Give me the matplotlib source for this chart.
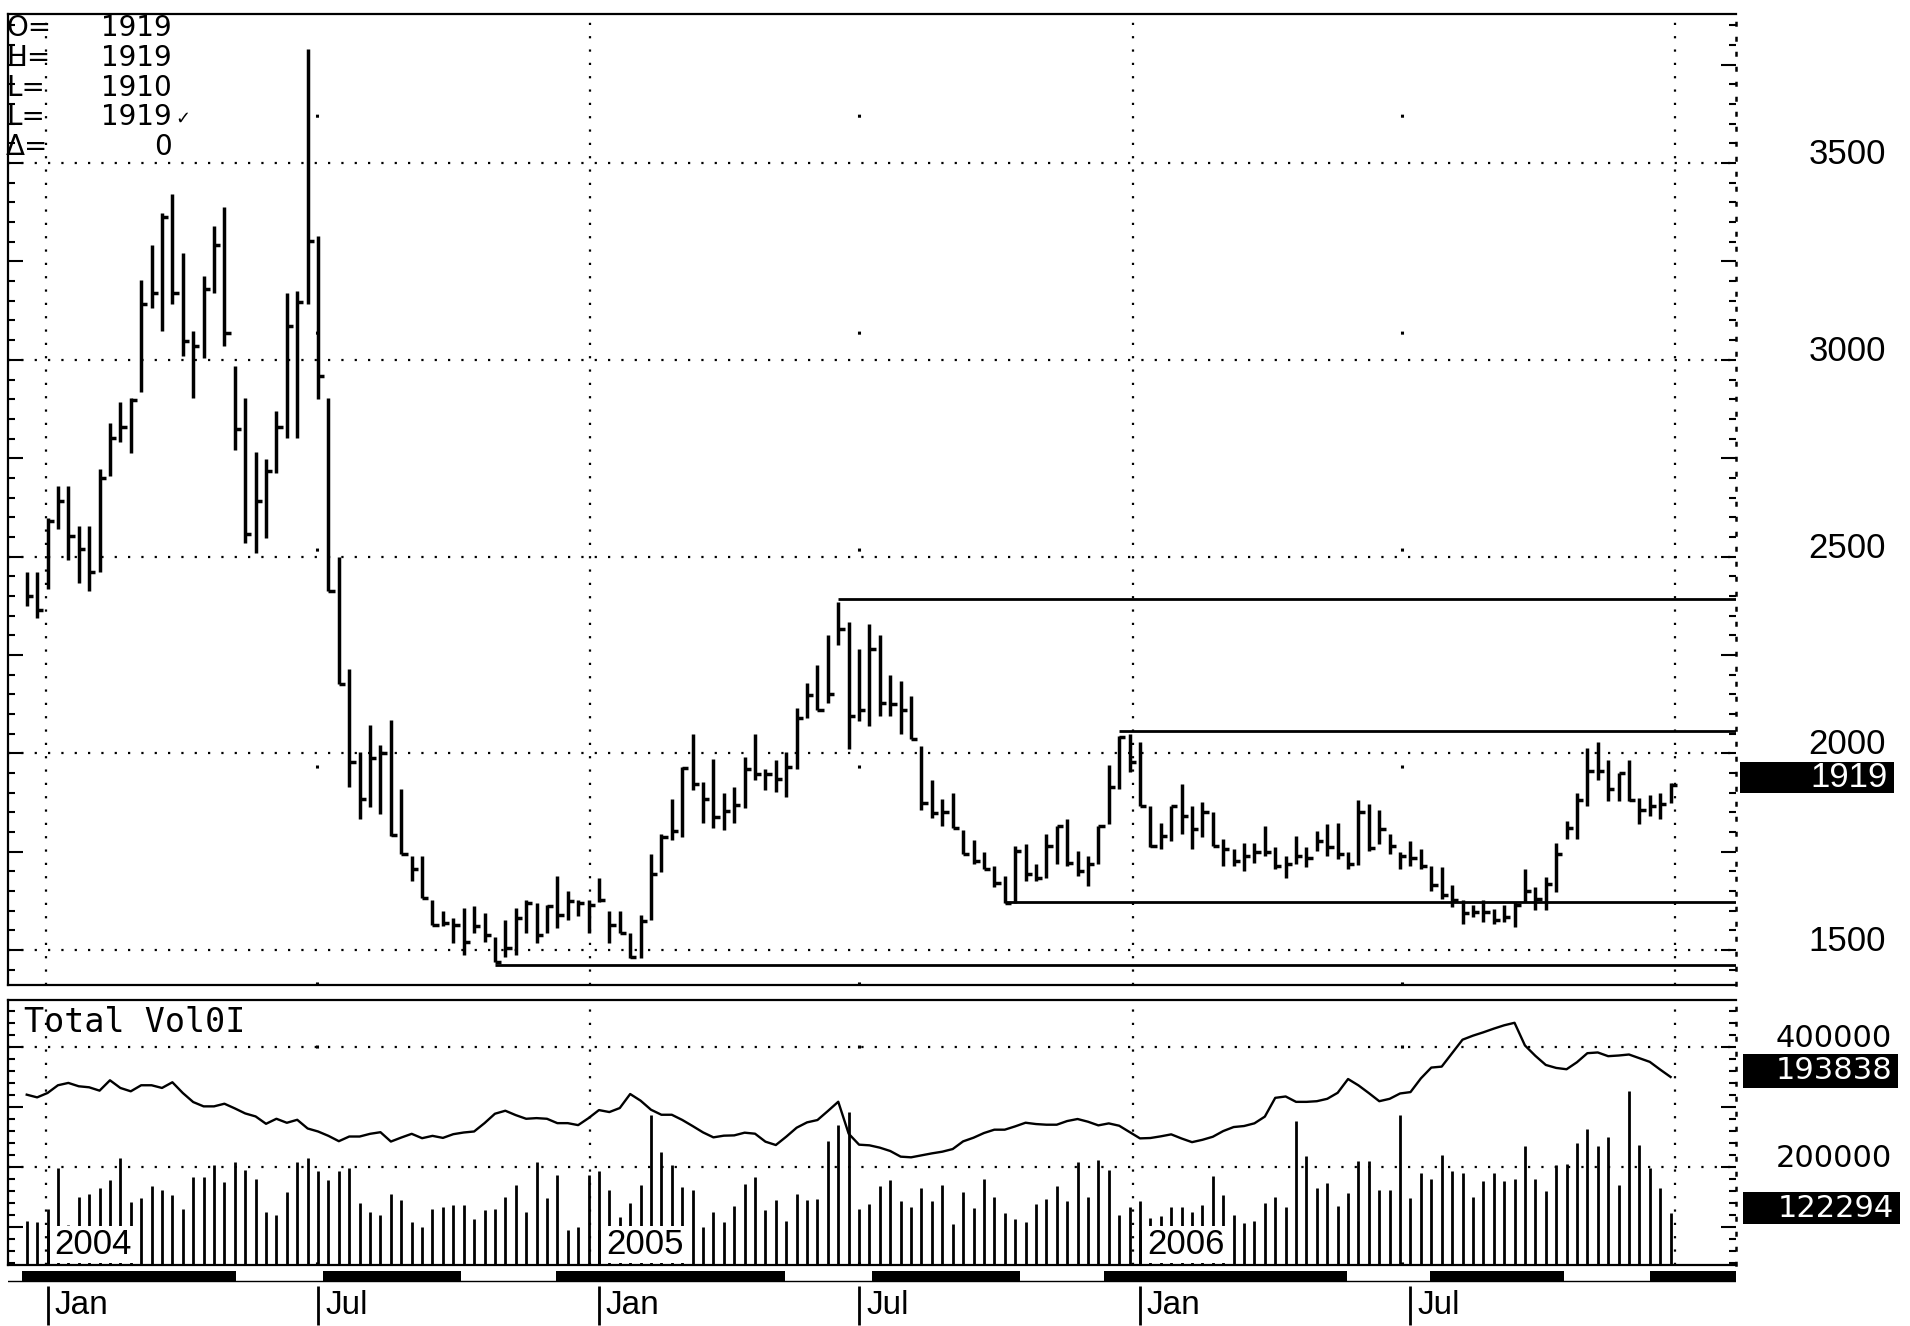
import matplotlib
matplotlib.use("Agg")
import matplotlib.pyplot as plt
import matplotlib.dates as mdates
from matplotlib.patches import Rectangle
from matplotlib.ticker import MultipleLocator
from matplotlib.transforms import blended_transform_factory
import numpy as np
import pandas as pd

plt.rcParams['font.family'] = ['Liberation Sans', 'DejaVu Sans']

# ---------------------------------------------------------------
# data (weekly bars)
# ---------------------------------------------------------------
weeks = pd.date_range("2003-12-19", periods=159, freq="7D")

high = [2461, 2461, 2597, 2680, 2680, 2578, 2578, 2723, 2840, 2893,
        2903, 3204, 3291, 3374, 3422, 3272, 3073, 3214, 3340, 3388,
        2985, 2903, 2767, 2747, 2869, 3170, 3175, 3791, 3315, 2903,
        2500, 2214, 2004, 2073, 2021, 2085, 1910, 1739, 1739, 1628,
        1598, 1581, 1607, 1611, 1594, 1534, 1577, 1607, 1628, 1620,
        1615, 1688, 1650, 1628, 1628, 1684, 1598, 1598, 1543, 1590,
        1744, 1795, 1885, 1966, 2050, 1927, 1986, 1898, 1915, 1990,
        2049, 1961, 1982, 2002, 2116, 2178, 2224, 2300, 2384, 2333,
        2266, 2329, 2300, 2199, 2183, 2145, 2019, 1931, 1885, 1898,
        1806, 1780, 1748, 1714, 1688, 1765, 1769, 1718, 1795, 1816,
        1833, 1752, 1739, 1816, 1969, 2045, 2049, 2028, 1867, 1824,
        1867, 1922, 1867, 1875, 1850, 1782, 1756, 1773, 1773, 1816,
        1761, 1739, 1790, 1761, 1803, 1820, 1824, 1748, 1880, 1870,
        1857, 1794, 1748, 1777, 1756, 1714, 1710, 1664, 1626, 1614,
        1626, 1605, 1614, 1622, 1706, 1660, 1685, 1773, 1828, 1899,
        2013, 2029, 1983, 1950, 1983, 1887, 1895, 1899, 1924]

low = [2374, 2344, 2417, 2570, 2490, 2432, 2413, 2461, 2704, 2791,
       2762, 2917, 3131, 3073, 3141, 3010, 2903, 3005, 3170, 3034,
       2772, 2534, 2510, 2548, 2713, 2801, 2801, 3141, 2900, 2413,
       2175, 1915, 1833, 1863, 1846, 1790, 1744, 1675, 1632, 1564,
       1560, 1517, 1487, 1543, 1521, 1470, 1483, 1487, 1543, 1517,
       1543, 1556, 1577, 1586, 1543, 1622, 1517, 1543, 1479, 1479,
       1577, 1697, 1780, 1786, 1906, 1822, 1810, 1806, 1822, 1860,
       1931, 1906, 1902, 1889, 1961, 2090, 2111, 2128, 2275, 2011,
       2082, 2070, 2095, 2095, 2049, 2036, 1856, 1835, 1814, 1810,
       1743, 1718, 1705, 1659, 1620, 1620, 1676, 1676, 1684, 1718,
       1714, 1688, 1663, 1718, 1820, 1909, 1952, 1867, 1761, 1756,
       1778, 1795, 1756, 1786, 1765, 1714, 1714, 1701, 1722, 1739,
       1705, 1684, 1718, 1710, 1752, 1739, 1731, 1705, 1715, 1752,
       1769, 1744, 1706, 1714, 1706, 1651, 1630, 1609, 1567, 1584,
       1572, 1567, 1572, 1559, 1622, 1601, 1601, 1647, 1782, 1782,
       1866, 1933, 1878, 1878, 1878, 1819, 1840, 1832, 1874]

close = [2400, 2364, 2590, 2640, 2553, 2519, 2461, 2699, 2801, 2830,
         2898, 3141, 3170, 3364, 3170, 3048, 3034, 3180, 3291, 3068,
         2825, 2558, 2641, 2718, 2830, 3087, 3146, 3301, 2960, 2413,
         2175, 1979, 1885, 1987, 2000, 1791, 1744, 1705, 1632, 1564,
         1568, 1564, 1521, 1560, 1538, 1470, 1504, 1581, 1620, 1538,
         1611, 1590, 1624, 1620, 1615, 1628, 1564, 1543, 1483, 1573,
         1692, 1786, 1803, 1963, 1923, 1885, 1839, 1852, 1868, 1961,
         1948, 1948, 1935, 1965, 2090, 2149, 2111, 2150, 2317, 2095,
         2111, 2266, 2128, 2124, 2111, 2036, 1873, 1848, 1850, 1810,
         1743, 1725, 1705, 1671, 1620, 1752, 1693, 1684, 1765, 1816,
         1722, 1701, 1718, 1816, 1913, 2041, 1977, 1867, 1765, 1790,
         1867, 1841, 1807, 1850, 1765, 1756, 1727, 1739, 1748, 1748,
         1714, 1718, 1739, 1735, 1778, 1761, 1744, 1718, 1850, 1760,
         1807, 1765, 1740, 1735, 1714, 1664, 1639, 1626, 1593, 1597,
         1597, 1576, 1584, 1614, 1651, 1630, 1668, 1744, 1811, 1882,
         1954, 1954, 1908, 1950, 1882, 1857, 1866, 1870, 1919]

# total volume, thousands of contracts
volume_k = [110, 108, 130, 197, 102, 150, 155, 164, 178, 214,
            141, 147, 167, 161, 153, 130, 183, 183, 203, 175,
            208, 194, 180, 125, 119, 158, 208, 214, 192, 178,
            192, 197, 139, 125, 119, 155, 144, 108, 99, 130,
            133, 136, 136, 113, 127, 130, 150, 169, 125, 208,
            147, 186, 94, 99, 186, 192, 161, 116, 139, 169,
            287, 225, 203, 166, 161, 99, 125, 108, 135, 171,
            183, 128, 144, 109, 154, 144, 146, 243, 269, 292,
            129, 137, 168, 178, 143, 133, 165, 143, 169, 104,
            157, 131, 179, 150, 122, 113, 108, 137, 146, 168,
            142, 208, 150, 211, 194, 119, 133, 143, 114, 117,
            133, 133, 124, 136, 185, 152, 119, 106, 110, 140,
            150, 133, 277, 218, 165, 173, 134, 156, 210, 210,
            161, 161, 287, 148, 189, 179, 220, 193, 189, 150,
            176, 189, 176, 180, 235, 180, 159, 203, 204, 240,
            263, 235, 249, 169, 327, 236, 197, 165, 122.294]

# open interest, thousands of contracts
open_int_k = [164.3, 159.8, 167.1, 180.0, 183.9, 178.3, 176.6, 171.0, 188.3, 175.5,
              169.9, 180.0, 180.0, 175.5, 185.0, 167.1, 152.0, 144.8, 144.8, 149.2,
              141.4, 133.0, 128.0, 115.7, 124.1, 117.4, 122.4, 107.9, 102.9, 95.6,
              86.7, 94.5, 94.5, 99.0, 101.7, 86.1, 92.8, 99.0, 91.7, 95.6,
              92.2, 98.4, 101.2, 102.9, 116.8, 132.5, 137.5, 130.2, 124.1, 125.2,
              124.1, 116.8, 116.8, 113.5, 125.2, 138.6, 135.3, 142.0, 165.4, 154.3,
              139.2, 130.8, 130.8, 122.2, 112.0, 101.4, 93.1, 95.9, 96.4, 100.9,
              99.2, 85.9, 80.3, 94.2, 109.2, 118.1, 122.0, 137.0, 152.5, 99.2,
              80.9, 79.8, 75.9, 70.3, 60.9, 59.8, 63.1, 66.4, 69.2, 73.6,
              86.4, 92.5, 100.3, 105.9, 105.9, 111.4, 117.5, 115.3, 114.2, 114.2,
              120.3, 123.7, 119.2, 113.1, 116.4, 112.5, 102.0, 91.4, 92.0, 94.8,
              98.1, 91.2, 85.1, 89.0, 94.1, 103.6, 110.3, 112.0, 116.5, 127.7,
              159.0, 161.3, 152.3, 152.3, 153.4, 157.4, 167.4, 190.4, 179.8, 166.9,
              153.4, 157.4, 166.3, 168.6, 191.5, 209.5, 211.1, 233.5, 256.0, 262.7,
              268.3, 274.4, 280.0, 284.2, 246.4, 229.1, 213.9, 208.9, 206.7, 218.4,
              233.5, 234.7, 228.5, 229.6, 231.3, 225.1, 219.0, 206.1, 193.838]

# horizontal support / resistance lines: level and week where they start
line_levels = [2392, 2057, 1621, 1463]
line_start = [78, 105, 94, 45]

price_grid = [1500, 2000, 2500, 3000, 3500]
vol_grid = [200000, 400000]

quote_labels = ["O=", "H=", "L=", "L=", "\u0394="]
quote_values = ["1919", "1919", "1910", "1919", "0"]

# contract bands under the chart
bands = [("2003-12-16", "2004-05-08"), ("2004-07-05", "2004-10-06"),
         ("2004-12-09", "2005-05-12"), ("2005-07-10", "2005-10-17"),
         ("2005-12-13", "2006-05-25"), ("2006-07-20", "2006-10-18"),
         ("2006-12-15", "2007-03-01")]

volume = np.array(volume_k) * 1000
open_int = np.array(open_int_k) * 1000
x = mdates.date2num(weeks)

# ---------------------------------------------------------------
# layout (pixel based, 1910 x 1326)
# ---------------------------------------------------------------
FIG_W, FIG_H = 1910, 1326
L_PX, R_PX = 8, 1736
P_TOP, P_BOT = 14, 985
V_TOP, V_BOT = 1000, 1265
OI_SHIFT = 155800


def fx(px):
    return px / FIG_W


def fy(py):
    return 1 - py / FIG_H


def ax_frac(px):
    return (px - L_PX) / (R_PX - L_PX)


fig = plt.figure(figsize=(FIG_W / 100, FIG_H / 100), dpi=100)
w = fx(R_PX) - fx(L_PX)
ax_p = fig.add_axes([fx(L_PX), fy(P_BOT), w, (P_BOT - P_TOP) / FIG_H])
ax_v = fig.add_axes([fx(L_PX), fy(V_BOT), w, (V_BOT - V_TOP) / FIG_H], sharex=ax_p)
ax_s = fig.add_axes([fx(L_PX), 0, w, (FIG_H - V_BOT) / FIG_H], sharex=ax_p)

x_lo = x[0] - 12.6
x_hi = x[0] + 1150
ax_p.set_xlim(x_lo, x_hi)
ax_p.set_ylim(1411, 3879)
ax_v.set_ylim(36000, 478000)

dot = (0, (1, 5))
sparse = (0, (1, 70))

# ---------------------------------------------------------------
# price panel
# ---------------------------------------------------------------
ax_p.vlines(x, low, high, colors="k", lw=2.5)
ax_p.hlines(close, x, x + 4.2, colors="k", lw=2.5)

for lv in price_grid:
    ax_p.axhline(lv, color="k", lw=1.6, ls=dot, zorder=0)

for lv, st in zip(line_levels, line_start):
    ax_p.hlines(lv, x[st], x_hi, colors="k", lw=2.0)

jan_lines = mdates.date2num(pd.to_datetime(["2004-01-01", "2005-01-01", "2006-01-01", "2007-01-01"]))
jul_lines = mdates.date2num(pd.to_datetime(["2004-07-01", "2005-07-01", "2006-07-01"]))
for ax in (ax_p, ax_v):
    for xv in jan_lines:
        ax.axvline(xv, color="k", lw=1.6, ls=dot, zorder=0)
    for xv in jul_lines:
        ax.axvline(xv, color="k", lw=2.2, ls=sparse, zorder=0)


def value_box(ax, value, text, x0_px, x1_px, h_px, dy_px, fs, family):
    lo, hi = ax.get_ylim()
    upp = (hi - lo) / (ax.get_position().height * FIG_H)
    trans = blended_transform_factory(ax.transAxes, ax.transData)
    yc = value + dy_px * upp
    ax.add_patch(Rectangle((ax_frac(x0_px), yc - h_px / 2 * upp),
                           ax_frac(x1_px) - ax_frac(x0_px), h_px * upp,
                           transform=trans, facecolor="k", edgecolor="none",
                           clip_on=False, zorder=5))
    ax.text(ax_frac(x1_px - 6), yc, text, transform=trans, color="white",
            ha="right", va="center", fontsize=fs, family=family,
            clip_on=False, zorder=6)


for lv in price_grid:
    ax_p.annotate(f"{lv}", xy=(ax_frac(1886), lv), xycoords=("axes fraction", "data"),
                  xytext=(0, 6), textcoords="offset points", ha="right", va="center",
                  fontsize=25, annotation_clip=False)
value_box(ax_p, close[-1], f"{close[-1]}", 1740, 1894, 31, 8, 25, "Liberation Sans")

# ---------------------------------------------------------------
# volume / open interest panel
# ---------------------------------------------------------------
ax_v.vlines(x, 0, volume, colors="k", lw=2.0)
for lv in vol_grid:
    ax_v.axhline(lv, color="k", lw=1.6, ls=dot, zorder=0)
    ax_v.annotate(f"{lv}", xy=(ax_frac(1892), lv), xycoords=("axes fraction", "data"),
                  xytext=(0, 6), textcoords="offset points", ha="right", va="center",
                  fontsize=22, family="DejaVu Sans", annotation_clip=False)

ax_oi = ax_v.twinx()
ax_oi.plot(x, open_int, color="k", lw=1.7)
lo, hi = ax_v.get_ylim()
ax_oi.set_ylim(lo - OI_SHIFT, hi - OI_SHIFT)
ax_oi.axis("off")

value_box(ax_oi, open_int[-1], f"{open_int[-1]:.0f}", 1743, 1898, 34, 6, 22, "DejaVu Sans")
value_box(ax_v, volume[-1], f"{volume[-1]:.0f}", 1743, 1900, 32, 5, 22, "DejaVu Sans")

fig.text(fx(24), fy(1023), "Total Vol0I", family="DejaVu Sans Mono", fontsize=24,
         va="center", ha="left")

# ---------------------------------------------------------------
# axes styling
# ---------------------------------------------------------------
for ax, major, minor in ((ax_p, 250, 50), (ax_v, 100000, 20000)):
    ax.yaxis.set_major_locator(MultipleLocator(major))
    ax.yaxis.set_minor_locator(MultipleLocator(minor))
    ax.tick_params(axis="y", which="both", direction="in", left=True, right=True,
                   labelleft=False, labelright=False, width=1.5)
    ax.tick_params(axis="y", which="major", length=11)
    ax.tick_params(axis="y", which="minor", length=5)
    ax.tick_params(axis="x", which="both", bottom=False, top=False,
                   labelbottom=False, labeltop=False)
    for s in ("left", "top", "bottom"):
        ax.spines[s].set_linewidth(1.6)
    ax.spines["right"].set_linestyle(dot)
    ax.spines["right"].set_linewidth(1.8)
    ax.set_facecolor("none")

# ---------------------------------------------------------------
# date strip
# ---------------------------------------------------------------
ax_s.set_ylim(0, 1)
ax_s.axis("off")
for a, b in bands:
    xa, xb = mdates.date2num(pd.to_datetime([a, b]))
    ax_s.broken_barh([(xa, xb - xa)], (0.72, 0.18), facecolors="k")
ax_s.axhline(0.73, color="k", lw=1.0)

month_marks = [(d, d.strftime("%b")) for i, d in enumerate(weeks)
               if i > 0 and d.month != weeks[i - 1].month and d.month in (1, 7)]
for d, name in month_marks:
    xm = mdates.date2num(d)
    ax_s.vlines(xm, 0.02, 0.66, colors="k", lw=2.0)
    ax_s.annotate(name, (xm, 0.33), xytext=(5, 0), textcoords="offset points",
                  ha="left", va="center", fontsize=24)
    if d.month == 1:
        btrans = blended_transform_factory(ax_v.transData, ax_v.transAxes)
        ax_v.plot([xm, xm], [0, 0.13], color="k", lw=2.0, transform=btrans, zorder=7)
        ax_v.annotate(str(d.year), (xm, 0.0), xycoords=btrans, xytext=(5, 3),
                      textcoords="offset points", ha="left", va="bottom", fontsize=25,
                      bbox=dict(facecolor="white", edgecolor="none", pad=1.5), zorder=6)

# ---------------------------------------------------------------
# quote block, top left
# ---------------------------------------------------------------
rows_y = [28, 58, 88, 117, 147]
for lab, val, ry in zip(quote_labels, quote_values, rows_y):
    fig.text(fx(6), fy(ry), lab, fontsize=20, family="DejaVu Sans", va="center", ha="left")
    fig.text(fx(172), fy(ry), val, fontsize=20, family="DejaVu Sans", va="center", ha="right")
fig.text(fx(175), fy(rows_y[3] + 2), "\u2713", fontsize=13, family="DejaVu Sans",
         va="center", ha="left")

fig.savefig("out.png", dpi=100, facecolor="white")
